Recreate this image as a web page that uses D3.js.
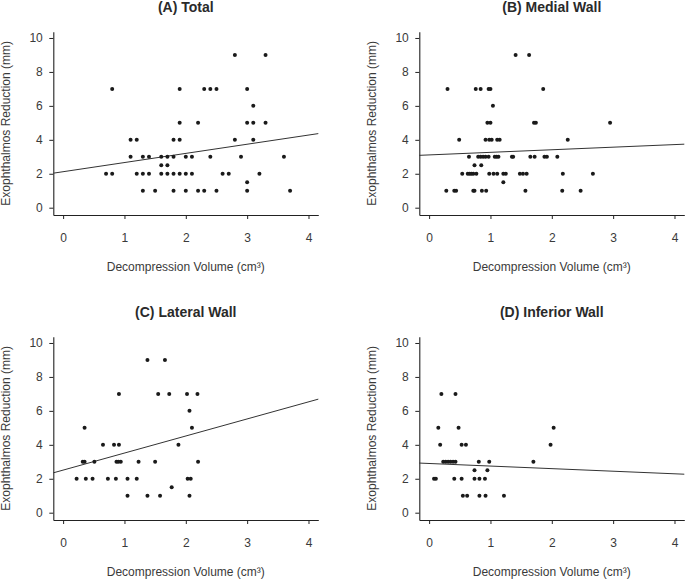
<!DOCTYPE html>
<html>
<head>
<meta charset="utf-8">
<script src="https://cdn.jsdelivr.net/npm/d3@7"></script>
<style>
  html, body { margin: 0; padding: 0; background: #fff; }
  svg { display: block; }
</style>
</head>
<body>
<svg id="chart" width="685" height="579"></svg>
<script>
// ---- Data ----
const panelTitles = ["(A) Total", "(B) Medial Wall", "(C) Lateral Wall", "(D) Inferior Wall"];
const xTicks = [0, 1, 2, 3, 4];
const yTicks = [0, 2, 4, 6, 8, 10];
const xLabel = "Decompression Volume (cm³)";
const yLabel = "Exophthalmos Reduction (mm)";

// Panel A: total volume
const totalX = [0.80,1.90,2.30,2.40,2.50,3.00, 2.80,3.30, 3.10, 1.90,2.20,3.00,3.10,3.30,
  1.10,1.20,1.80,1.90,2.80,3.10,
  1.10,1.30,1.40,1.60,1.70,1.80,2.00,2.10,2.40,2.90,3.60,
  1.60,1.70,
  0.70,0.80,1.20,1.30,1.40,1.60,1.70,1.80,1.90,2.00,2.10,2.60,2.70,3.20,
  3.00,
  1.30,1.50,1.80,2.00,2.20,2.30,2.50,3.00,3.70];
const totalY = [7,7,7,7,7,7, 9,9, 6, 5,5,5,5,5,
  4,4,4,4,4,4,
  3,3,3,3,3,3,3,3,3,3,3,
  2.5,2.5,
  2,2,2,2,2,2,2,2,2,2,2,2,2,2,
  1.5,
  1,1,1,1,1,1,1,1,1];

// Panel B: medial wall
const medialX = [1.41,1.63, 0.30,0.76,0.84,0.97,1.00,1.86, 1.04, 0.95,1.00,1.71,1.74,2.95,
  0.49,0.92,0.98,1.02,1.11,1.15,2.26,
  0.65,0.80,0.84,0.88,0.92,0.97,1.07,1.10,1.13,1.35,1.37,1.65,1.72,1.88,1.92,2.09,
  0.74,0.85,
  0.54,0.63,0.66,0.69,0.72,0.77,0.98,1.05,1.11,1.21,1.25,1.48,1.53,1.59,2.18,2.67,
  1.21,
  0.28,0.41,0.44,0.72,0.74,0.86,0.93,1.57,2.17,2.47];
const medialY = [9,9, 7,7,7,7,7,7, 6, 5,5,5,5,5,
  4,4,4,4,4,4,4,
  3,3,3,3,3,3,3,3,3,3,3,3,3,3,3,3,
  2.5,2.5,
  2,2,2,2,2,2,2,2,2,2,2,2,2,2,2,2,
  1.5,
  1,1,1,1,1,1,1,1,1,1];

// Panel C: lateral wall
const lateralX = [1.375,1.66, 0.91,1.55,1.73,2.02,2.19, 2.06, 0.35,2.10,
  0.65,0.83,0.91,1.88,
  0.32,0.35,0.51,0.87,0.90,0.94,1.23,1.50,2.20,
  0.22,0.37,0.48,0.73,0.86,1.05,1.20,2.03,2.08,
  1.77,
  1.05,1.375,1.58,2.06];
const lateralY = [9,9, 7,7,7,7,7, 6, 5,5,
  4,4,4,4,
  3,3,3,3,3,3,3,3,3,
  2,2,2,2,2,2,2,2,2,
  1.5,
  1,1,1,1];

// Panel D: inferior wall
const inferiorX = [0.20,0.43, 0.15,0.48,2.03, 0.18,0.53,0.60,1.98,
  0.23,0.27,0.31,0.35,0.39,0.43,0.81,0.98,1.70,
  0.74,0.95,
  0.08,0.11,0.41,0.53,0.74,0.82,0.91,
  0.55,0.62,0.82,0.92,1.22];
const inferiorY = [7,7, 5,5,5, 4,4,4,4,
  3,3,3,3,3,3,3,3,3,
  2.5,2.5,
  2,2,2,2,2,2,2,
  1,1,1,1,1];

// Fitted regression lines: [intercept, slope]
const fitIntercepts = [2.12, 3.11, 2.51, 2.90];
const fitSlopes = [0.54, 0.152, 1.005, -0.152];

const seriesX = [totalX, medialX, lateralX, inferiorX];
const seriesY = [totalY, medialY, lateralY, inferiorY];

// ---- Layout ----
const svg = d3.select("#chart");
const font = "'Liberation Sans', Arial, Helvetica, sans-serif";
const offsets = [[0, 0], [366, 0], [0, 305], [366, 305]];
const xDomain = [-0.16, 4.16];
const yDomain = [-0.43, 10.37];
const plotLeft = 53.3, plotRight = 318.3, plotTop = 31.7, plotBottom = 215;

panelTitles.forEach((title, i) => {
  const [ox, oy] = offsets[i];
  const g = svg.append("g").attr("transform", `translate(${ox},${oy})`);

  const x = d3.scaleLinear().domain(xDomain).range([plotLeft, plotRight]);
  const y = d3.scaleLinear().domain(yDomain).range([plotBottom, plotTop]);

  // Axes
  const xAxis = g.append("g")
    .attr("transform", `translate(0,${plotBottom})`)
    .call(d3.axisBottom(x).tickValues(xTicks).tickFormat(d3.format("d"))
      .tickSizeInner(4).tickSizeOuter(0).tickPadding(14.5));
  const yAxis = g.append("g")
    .attr("transform", `translate(${plotLeft},0)`)
    .call(d3.axisLeft(y).tickValues(yTicks).tickFormat(d3.format("d"))
      .tickSizeInner(4).tickSizeOuter(0).tickPadding(6.5));

  [xAxis, yAxis].forEach(ax => {
    ax.select(".domain").attr("stroke", "#222").attr("stroke-width", 1.1);
    ax.selectAll(".tick line").attr("stroke", "#222").attr("stroke-width", 1);
    ax.selectAll(".tick text")
      .attr("fill", "#3a3a3a")
      .style("font-family", font)
      .style("font-size", "12px");
  });

  // Regression line across full x extent
  const a = fitIntercepts[i], b = fitSlopes[i];
  g.append("line")
    .attr("x1", x(xDomain[0])).attr("y1", y(a + b * xDomain[0]))
    .attr("x2", x(xDomain[1])).attr("y2", y(a + b * xDomain[1]))
    .attr("stroke", "#333").attr("stroke-width", 1);

  // Points
  const xs = seriesX[i], ys = seriesY[i];
  g.selectAll("circle.pt")
    .data(xs.map((v, k) => [v, ys[k]]))
    .join("circle")
    .attr("class", "pt")
    .attr("cx", d => x(d[0]))
    .attr("cy", d => y(d[1]))
    .attr("r", 2)
    .attr("fill", "#1a1a1a");

  // Panel title
  g.append("text")
    .attr("x", (plotLeft + plotRight) / 2)
    .attr("y", 12)
    .attr("text-anchor", "middle")
    .style("font-family", font)
    .style("font-size", "14px")
    .style("font-weight", "bold")
    .attr("fill", "#2a2a2a")
    .text(title);

  // X axis title
  g.append("text")
    .attr("x", (plotLeft + plotRight) / 2)
    .attr("y", 270.5)
    .attr("text-anchor", "middle")
    .style("font-family", font)
    .style("font-size", "12px")
    .attr("fill", "#3a3a3a")
    .text(xLabel);

  // Y axis title
  g.append("text")
    .attr("transform", `translate(10,${(plotTop + plotBottom) / 2}) rotate(-90)`)
    .attr("text-anchor", "middle")
    .style("font-family", font)
    .style("font-size", "12px")
    .attr("fill", "#3a3a3a")
    .text(yLabel);
});
</script>
</body>
</html>
